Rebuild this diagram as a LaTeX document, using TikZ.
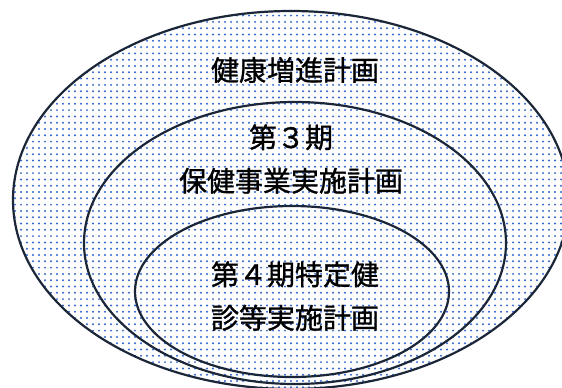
\documentclass[tikz,border=0pt]{standalone}
\usepackage{fontspec}
\newfontfamily\jp[FakeBold=1]{Noto Sans CJK JP}
\definecolor{dotblue}{HTML}{3366CC}
\definecolor{linenavy}{HTML}{1B2738}
\tikzset{
  planline/.style={draw=linenavy, line width=2.2pt},
  plantext/.style={font=\jp\fontsize{28}{43.5}\selectfont, align=center, inner sep=0pt, text=black}
}
\begin{document}
\begin{tikzpicture}[x=1pt,y=-1pt]
\useasboundingbox (0,0) rectangle (562,388);
\clip (0,0) rectangle (562,388);
\begin{scope}
  \clip (291,200) ellipse [x radius=278, y radius=189];
  \fill[white] (0,0) rectangle (562,388);
  \foreach \y in {3,9.3,...,393} {
    \fill[dotblue] \foreach \x in {3,9,...,567} {(\x,\y) circle (1.1)};
  }
\end{scope}
\path[planline] (291,200) ellipse [x radius=278, y radius=189];
\path[planline] (295,243) ellipse [x radius=211, y radius=141];
\path[planline] (292,291.5) ellipse [x radius=157, y radius=85.5];
\node[plantext] (outer) at (295,70) {健康増進計画};
\node[plantext] (middle) at (291,159) {第３期\\保健事業実施計画};
\node[plantext] (inner) at (295,296) {第４期特定健\\診等実施計画};
\end{tikzpicture}
\end{document}
